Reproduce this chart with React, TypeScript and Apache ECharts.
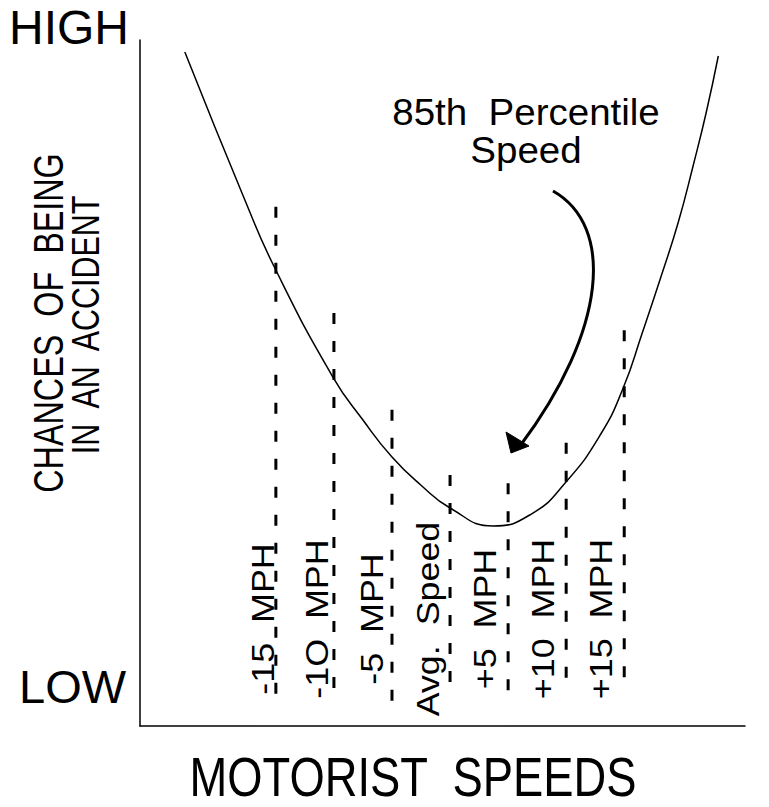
import React, { useEffect, useRef } from "react";
import * as echarts from "echarts";

// Curve: speed offset from the average (mph) vs. relative chance of accident (0 = LOW, 100 = HIGH)
const curveSpeeds = [-22.84, -17.67, -15.09, -10.09, -7.5, -5.0, -2.5, 0.0, 3.71, 7.0, 9.91, 12.93, 14.91, 16.55, 18.1, 19.66, 20.95, 22.07, 23.1];
const curveRisk = [98.25, 76.68, 66.76, 50.87, 44.6, 39.21, 35.1, 31.78, 29.15, 30.9, 35.42, 42.42, 49.27, 57.29, 65.16, 73.47, 81.78, 89.5, 97.67];

// Dashed speed markers
const markerSpeeds = [-15, -10, -5, 0, 5, 10, 15];
const markerLabels = ["-15  MPH", "-1O  MPH", "-5  MPH", "Avg.  Speed", "+5  MPH", "+10  MPH", "+15  MPH"];
const markerTop = [75.7, 60.2, 46.1, 36.6, 35.4, 41.3, 57.7];
const markerBottom = [3.5, 4.2, 3.6, 5.5, 4.2, 6.3, 6.0];

const yTitleLines = ["CHANCES  OF  BEING", "IN  AN  ACCIDENT"];
const xTitle = "MOTORIST  SPEEDS";
const yHigh = "HIGH";
const yLow = "LOW";
const annotationLines = ["85th  Percentile", "Speed"];

// layout (not data)
const labelDx = [-13, -17, -20, -22, -23, -23, -24];
const FONT = "'Liberation Sans', Arial, Helvetica, sans-serif";

export default function App() {
  const ref = useRef<HTMLDivElement>(null);
  useEffect(() => {
    if (!ref.current) return;
    const chart = echarts.init(ref.current, null, { renderer: "svg" });
    const series: any[] = [
      {
        type: "line",
        data: curveSpeeds.map((s, i) => [s, curveRisk[i]]),
        smooth: 0.5,
        symbol: "none",
        lineStyle: { color: "#000", width: 1.5 },
        z: 3,
      },
      ...markerSpeeds.map((s, i) => ({
        type: "line",
        data: [
          [s, markerTop[i]],
          [s, markerBottom[i]],
        ],
        symbol: "none",
        lineStyle: { color: "#000", width: 3, type: [11, 17] },
        z: 2,
      })),
    ];
    chart.setOption({
      animation: false,
      backgroundColor: "#fff",
      grid: { left: 140, top: 40, width: 605, height: 686 },
      xAxis: {
        type: "value",
        min: -26.7,
        max: 25.4,
        axisLine: { show: true, onZero: false, lineStyle: { color: "#000", width: 1.5 } },
        axisTick: { show: false },
        axisLabel: { show: false },
        splitLine: { show: false },
      },
      yAxis: {
        type: "value",
        min: 0,
        max: 100,
        axisLine: { show: true, onZero: false, lineStyle: { color: "#000", width: 1.5 } },
        axisTick: { show: false },
        axisLabel: { show: false },
        splitLine: { show: false },
      },
      series,
    });

    const labelEls = markerSpeeds.map((s, i) => {
      const px = chart.convertToPixel({ xAxisIndex: 0 }, s) as number;
      return {
        type: "text",
        x: px + labelDx[i],
        y: 619,
        rotation: Math.PI / 2,
        scaleX: 1.12,
        style: {
          text: markerLabels[i],
          fontSize: 32,
          fontFamily: FONT,
          fill: "#000",
          textAlign: "center",
          textVerticalAlign: "middle",
        },
      };
    });

    const txt = (text: string, x: number, y: number, fontSize: number, extra: any = {}, align = "center", lineHeight?: number) => ({
      type: "text",
      x,
      y,
      ...extra,
      style: {
        text,
        fontSize,
        fontFamily: FONT,
        fill: "#000",
        textAlign: align,
        textVerticalAlign: "middle",
        ...(lineHeight ? { lineHeight } : {}),
      },
    });

    chart.setOption({
      graphic: [
        txt(yHigh, 9, 27, 48, {}, "left"),
        txt(yLow, 19, 686, 47, {}, "left"),
        txt(xTitle, 413, 777, 54, { scaleX: 0.84, scaleY: 1.03 }, "center", 42),
        txt(yTitleLines[0], 48, 323, 42, { rotation: Math.PI / 2, scaleX: 0.77 }),
        txt(yTitleLines[1], 86, 325, 38, { rotation: Math.PI / 2, scaleX: 0.8 }),
        txt(annotationLines[0], 526, 112, 36, { scaleX: 1.07 }),
        txt(annotationLines[1], 526, 150, 36, { scaleX: 1.07 }),
        ...labelEls,
        {
          type: "bezierCurve",
          shape: { x1: 553, y1: 191, cpx1: 615, cpy1: 226, cpx2: 607, cpy2: 330, x2: 520, y2: 446 },
          style: { stroke: "#000", lineWidth: 3, fill: null },
        },
        {
          type: "polygon",
          shape: { points: [[506, 432], [529, 446], [511, 453]] },
          style: { fill: "#000", stroke: "#000", lineWidth: 1 },
        },
      ],
    });
    return () => chart.dispose();
  }, []);
  return (
    <div
      ref={ref}
      style={{ position: "fixed", left: 0, top: 0, width: 769, height: 807, background: "#fff" }}
    />
  );
}
